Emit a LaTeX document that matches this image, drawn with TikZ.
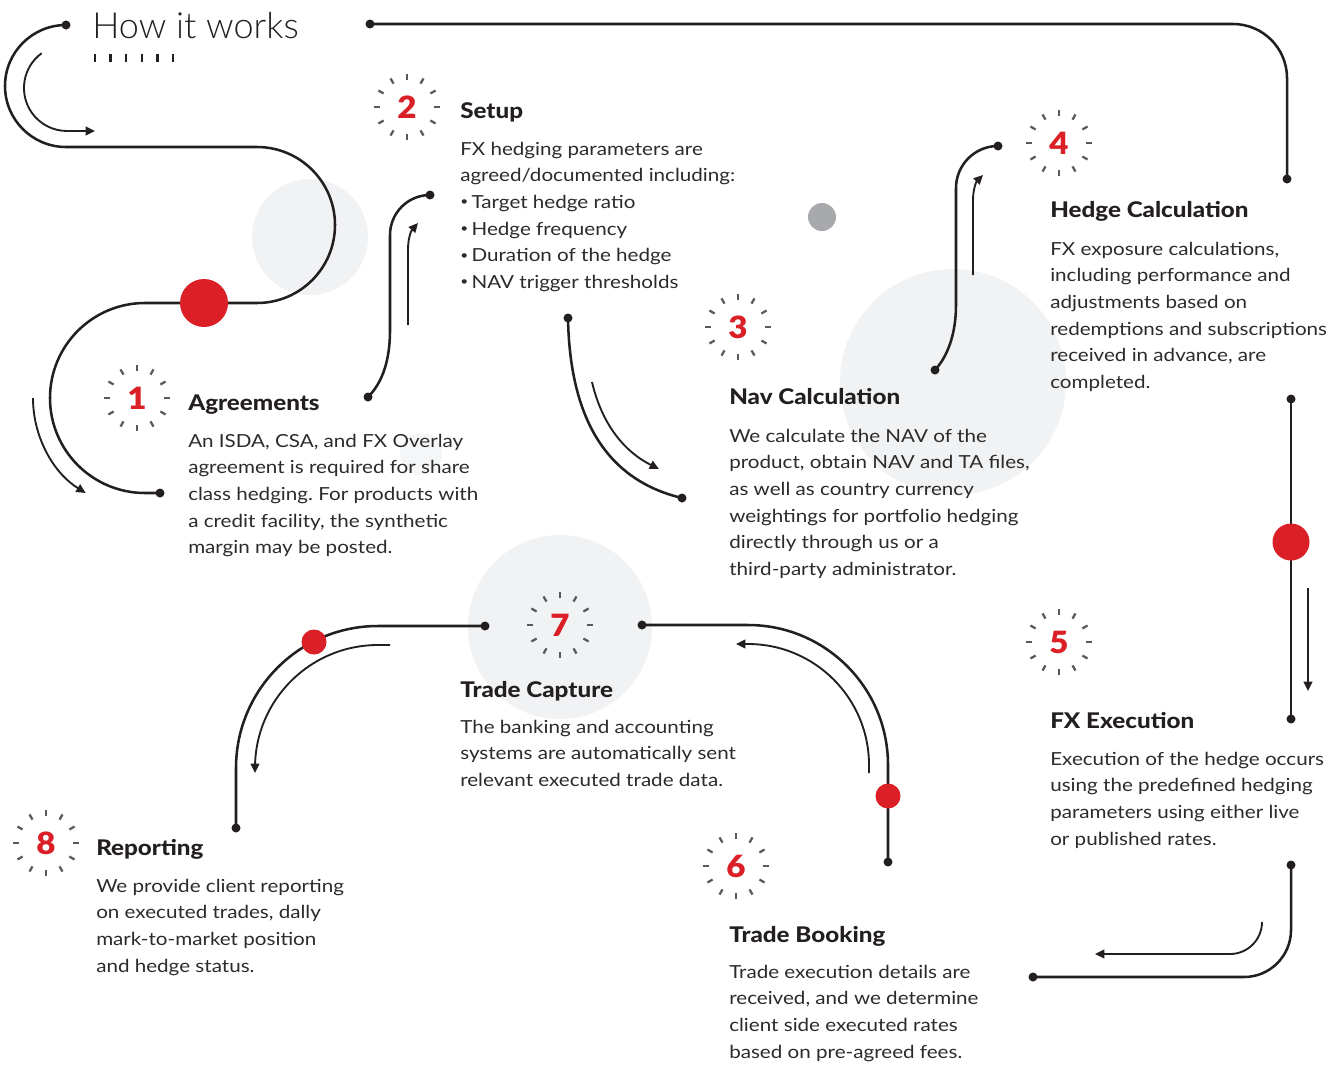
\documentclass[tikz,border=0pt]{standalone}
\usepackage{fontspec}
\setmainfont{Lato}[FakeStretch=1.145]
\newfontfamily\lightfont{Lato Light}
\newfontfamily\numfont{Lato Black}[FakeStretch=1.08]
\newfontfamily\headfont{Lato Heavy}[FakeStretch=1.12]
\newcommand\bulletmark{\makebox[8.5pt][l]{\raisebox{0.3ex}{\fontsize{9}{9}\selectfont •}}}
\usetikzlibrary{arrows.meta}
\definecolor{ink}{HTML}{231F20}
\definecolor{accent}{HTML}{DA1F26}
\definecolor{halo}{HTML}{F1F2F4}
\definecolor{dotgrey}{HTML}{A7A9AC}
\definecolor{tickgrey}{HTML}{58595B}
\definecolor{bodycol}{HTML}{2B2B2B}
\tikzset{
  mainline/.style={draw=ink, line width=1.9pt},
  flowarrow/.style={draw=ink, line width=1.4pt, -{Triangle[length=7pt,width=6.5pt]}},
  head/.style={anchor=base west, inner sep=0pt, text=ink, font=\headfont\fontsize{16.2}{19}\selectfont},
  body/.style={anchor=north west, inner sep=0pt, align=left, text=bodycol, font=\frenchspacing\fontsize{13.5}{20}\selectfont},
  num/.style={inner sep=0pt, text=accent, font=\numfont\fontsize{23}{28}\selectfont},
  tickmark/.style={draw=tickgrey, line width=1.7pt},
  badge/.pic={\foreach \a in {0,30,...,330} \draw[tickmark] (\a:27) -- (\a:33);},
}
\begin{document}
\begin{tikzpicture}[x=0.75pt,y=-0.75pt]
\useasboundingbox (0,0) rectangle (1341,1064);
\fill[white] (0,0) rectangle (1341,1064);

% background halos
\fill[halo] (310,237) circle[radius=58];
\fill[halo!70!white] (421,454) circle[radius=21];
\fill[halo] (953,382) circle[radius=113];
\fill[halo] (560,627) circle[radius=92];
\fill[dotgrey] (822,217) circle[radius=14];

% title
\node[anchor=base west, inner sep=0pt, text=ink, font=\lightfont\fontsize{27}{30}\selectfont] (title) at (92,38) {How it works};
\foreach \i in {0,...,5} \draw[draw=ink, line width=1.8pt] (95+15.6*\i,54) -- (95+15.6*\i,62);

% end points
\coordinate (s0) at (66,25);
\coordinate (s1) at (160,493);
\coordinate (c2a) at (368,397);
\coordinate (c2b) at (430,195);
\coordinate (c3a) at (568,318);
\coordinate (c3b) at (682,498);
\coordinate (c4a) at (935,370);
\coordinate (c4b) at (998,146);
\coordinate (t0) at (370,24);
\coordinate (t1) at (1287,179);
\coordinate (c5a) at (1291,399);
\coordinate (c5b) at (1291,719);
\coordinate (c6a) at (1291,865);
\coordinate (c6b) at (1033,977);
\coordinate (c7a) at (888,862);
\coordinate (c7b) at (642,625);
\coordinate (c8a) at (485,626);
\coordinate (c8b) at (236,828);

% main S path
\draw[mainline] (s0) arc[start angle=270, end angle=90, radius=61] -- (257,147)
  arc[start angle=-90, end angle=90, radius=78] -- (145,303)
  arc[start angle=270, end angle=90, radius=95] -- (s1);
\draw[flowarrow] (41.7,53.2) arc[start angle=234, end angle=90, radius=43] -- (95,131);
\draw[flowarrow] (33,398) arc[start angle=180, end angle=122, radius=112];
\fill[accent] (204,303) circle[radius=24];

% 1 -> 2
\draw[mainline] (c2a) .. controls (380,385) and (390,365) .. (390,330) -- (390,235)
  arc[start angle=180, end angle=270, radius=40];
\draw[flowarrow] (408,325) -- (408,250) .. controls (408,238) and (411,231) .. (418,223);

% 2 -> 3
\draw[mainline] (c3a) .. controls (570,430) and (615,482) .. (c3b);
\draw[flowarrow] (592,382) .. controls (602,425) and (625,452) .. (659,469);

% 3 -> 4
\draw[mainline] (c4a) .. controls (947,357) and (956,335) .. (956,305) -- (956,188)
  arc[start angle=180, end angle=270, radius=42];
\draw[flowarrow] (973,275) -- (973,200) .. controls (973,190) and (976,182) .. (983,175);

% top line
\draw[mainline] (t0) -- (1233,24) arc[start angle=270, end angle=360, radius=54] -- (t1);

% 4 -> 5
\draw[mainline] (c5a) -- (c5b);
\fill[accent] (1291,542) circle[radius=18.5];
\draw[flowarrow] (1308,588) -- (1308,691);

% 5 -> 6
\draw[mainline] (c6a) -- (1291,930) arc[start angle=0, end angle=90, radius=47] -- (c6b);
\draw[flowarrow] (1262,922) arc[start angle=0, end angle=90, radius=32] -- (1095,954);

% 6 -> 7
\draw[mainline] (c7a) -- (888,765) arc[start angle=0, end angle=-90, radius=140] -- (c7b);
\fill[accent] (888,796) circle[radius=12.5];
\draw[flowarrow] (869,773) -- (869,765) arc[start angle=0, end angle=-90, radius=121] -- (736,644);

% 7 -> 8
\draw[mainline] (c8a) -- (378,626) arc[start angle=270, end angle=180, radius=142] -- (c8b);
\fill[accent] (314,642) circle[radius=12.5];
\draw[flowarrow] (390,645) -- (378,645) arc[start angle=270, end angle=180, radius=123] -- (255,773);

% end dots
\foreach \p in {s0,s1,c2a,c2b,c3a,c3b,c4a,c4b,t0,t1,c5a,c5b,c6a,c6b,c7a,c7b,c8a,c8b}
  \fill[ink] (\p) circle[radius=4.5];

% badges
\foreach \n/\x/\y in {1/137/398, 2/407/107, 3/738/327, 4/1059/143, 5/1059/642, 6/736/866, 7/560/625, 8/46/843}{
  \pic at (\x,\y) {badge};
  \node[num] (num\n) at (\x,\y) {\n};
}

% texts
\node[head] (h1) at (188,410) {Agreements};
\node[body] (b1) at (188,428.3) {\strut An ISDA, CSA, and FX Overlay\\agreement is required for share\\class hedging. For products with\\a credit facility, the synthetic\\margin may be posted.};

\node[head] (h2) at (460,118) {Setup};
\node[body] (b2) at (460,136.3) {\strut FX hedging parameters are\\agreed/documented including:\\\bulletmark Target hedge ratio\\\bulletmark Hedge frequency\\\bulletmark Duration of the hedge\\\bulletmark NAV trigger thresholds};

\node[head] (h3) at (729,404) {Nav Calculation};
\node[body] (b3) at (729,423.3) {\strut We calculate the NAV of the\\product, obtain NAV and TA files,\\as well as country currency\\weightings for portfolio hedging\\directly through us or a\\third-party administrator.};

\node[head] (h4) at (1050,217) {Hedge Calculation};
\node[body] (b4) at (1050,236.3) {\strut FX exposure calculations,\\including performance and\\adjustments based on\\redemptions and subscriptions\\received in advance, are\\completed.};

\node[head] (h5) at (1050,728) {FX Execution};
\node[body] (b5) at (1050,746.3) {\strut Execution of the hedge occurs\\using the predefined hedging\\parameters using either live\\or published rates.};

\node[head] (h6) at (729,942) {Trade Booking};
\node[body] (b6) at (729,959.3) {\strut Trade execution details are\\received, and we determine\\client side executed rates\\based on pre-agreed fees.};

\node[head] (h7) at (460,697) {Trade Capture};
\node[body] (b7) at (460,714.3) {\strut The banking and accounting\\systems are automatically sent\\relevant executed trade data.};

\node[head] (h8) at (96,855) {Reporting};
\node[body] (b8) at (96,873.3) {\strut We provide client reporting\\on executed trades, dally\\mark-to-market position\\and hedge status.};
\end{tikzpicture}
\end{document}
